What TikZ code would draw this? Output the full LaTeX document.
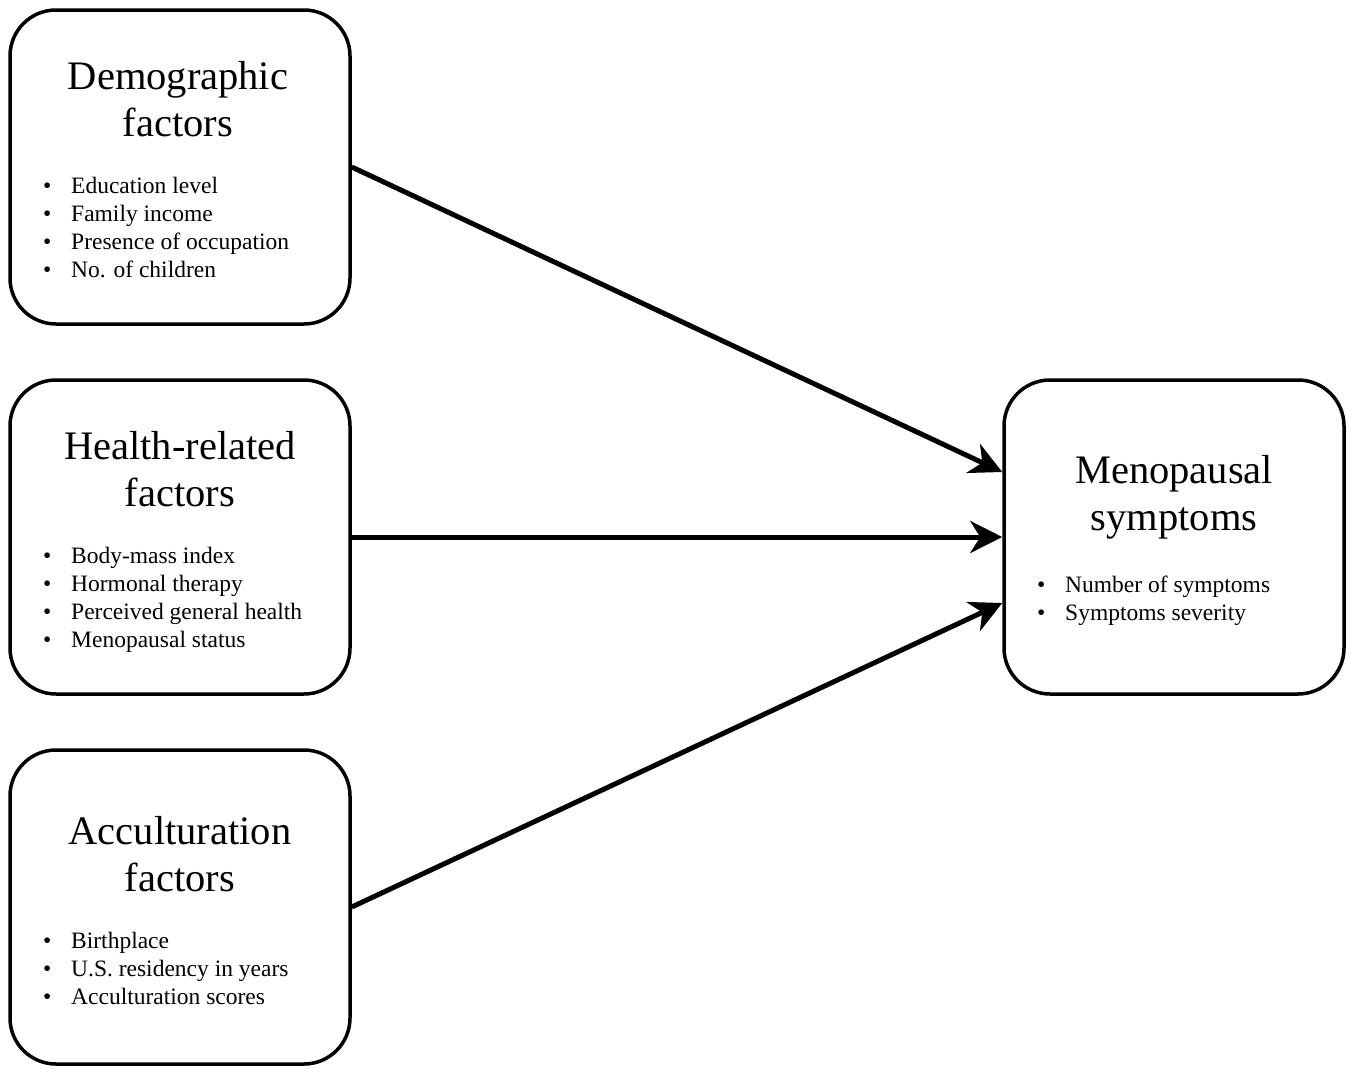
\documentclass[tikz,border=0pt]{standalone}
\usepackage{fontspec}
\setmainfont{Liberation Serif}
\usetikzlibrary{arrows.meta,calc}
\begin{document}
\begin{tikzpicture}[x=1pt,y=-1pt,
  box/.style={draw,line width=3.5pt,rounded corners=46pt,minimum width=340pt,minimum height=314pt,inner sep=0pt},
  title/.style={align=center,font=\fontsize{40.5}{47}\selectfont,inner sep=0pt},
  item/.style={anchor=base west,inner sep=0pt,font=\fontsize{23.5}{28}\selectfont},
  conn/.style={line width=5pt,-{Stealth[length=32pt,width=32pt,inset=10pt]}}]
\useasboundingbox (0,0) rectangle (1354,1068);
% boxes
\node[box] (dem) at (180,167) {};
\node[box] (hea) at (180,537) {};
\node[box] (acc) at (180,907) {};
\node[box] (men) at (1174,537) {};
% titles
\node[title] (demT) at (178,99) {Demographic\\factors};
\node[title] (heaT) at (180,469) {Health-related\\factors};
\node[title] (accT) at (180,854) {Acculturation\\factors};
\node[title] (menT) at (1174,497) {Menopausal\\symptoms};
% items
\newcommand{\itm}[1]{\makebox[28pt][l]{\textbullet}#1}
\node[item] (d1) at (43,193) {\itm{Education level}};
\node[item] (d2) at (43,221) {\itm{Family income}};
\node[item] (d3) at (43,249) {\itm{Presence of occupation}};
\node[item] (d4) at (43,277) {\itm{No. of children}};
\node[item] (h1) at (43,563) {\itm{Body-mass index}};
\node[item] (h2) at (43,591) {\itm{Hormonal therapy}};
\node[item] (h3) at (43,619) {\itm{Perceived general health}};
\node[item] (h4) at (43,647) {\itm{Menopausal status}};
\node[item] (a1) at (43,948) {\itm{Birthplace}};
\node[item] (a2) at (43,976) {\itm{U.S. residency in years}};
\node[item] (a3) at (43,1004) {\itm{Acculturation scores}};
\node[item] (m1) at (1037,592) {\itm{Number of symptoms}};
\node[item] (m2) at (1037,620) {\itm{Symptoms severity}};
% connectors
\draw[conn] (dem.east) -- ($(men.west)+(0,-65)$);
\draw[conn] (hea.east) -- (men.west);
\draw[conn] (acc.east) -- ($(men.west)+(0,66)$);
\end{tikzpicture}
\end{document}
